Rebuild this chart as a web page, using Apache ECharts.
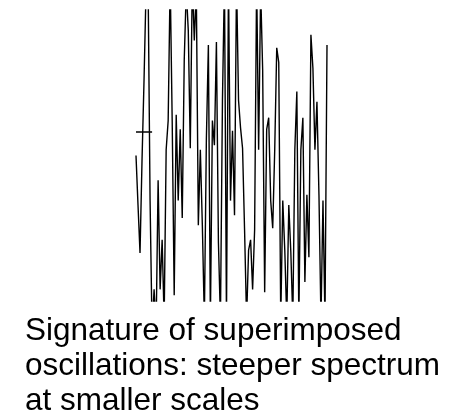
<!DOCTYPE html>
<html>
<head>
<meta charset="utf-8">
<script src="https://cdn.jsdelivr.net/npm/echarts@6/dist/echarts.min.js"></script>
<style>
  html, body { margin: 0; padding: 0; background: #fff; }
  #chart { width: 463px; height: 420px; }
</style>
</head>
<body>
<div id="chart"></div>
<script>
// Oscillating signal, sampled at equal steps; peaks beyond ±1 run off the panel.
const signal = [
  0.00, -0.34, -0.67, -0.03, 0.52, 1.14, 1.21, -0.31, -1.20, -0.92,
  -1.20, -0.17, -0.92, -0.58, -1.13, 0.04, 0.24, 1.21, 0.24, -0.96,
  0.28, -0.31, 0.18, -0.43, 0.66, 1.14, 0.86, 0.05, 1.21, 0.79,
  1.14, -0.48, 0.04, -0.48, -1.13, 0.11, 0.76, -1.13, 0.24, 0.07,
  0.78, -0.60, -1.13, 0.38, 1.21, -1.13, 1.21, -0.31, 0.17, -0.41,
  1.21, 0.38, 0.19, 0.05, -0.51, -1.13, -0.65, -0.58, -0.92, -0.51,
  1.21, 0.04, 1.14, 0.59, -0.94, 0.18, 0.26, -0.31, -0.50, 0.04,
  0.74, 0.64, -1.13, -0.31, -0.65, -1.13, -0.34, -0.66, -1.13, 0.04,
  0.44, -1.13, 0.04, 0.26, -0.87, -0.27, -0.70, 0.83, 0.60, 0.04,
  0.37, -0.27, -1.13, -0.31, -1.13, 0.76
];
const steps = signal.map((_, i) => i);

// Reference level marked at the start of the record
const refLevel = 0.16;
const refSpan = [0, 8];

const caption = 'Signature of superimposed\noscillations: steeper spectrum\nat smaller scales';

const chart = echarts.init(document.getElementById('chart'), null, { renderer: 'canvas' });
chart.setOption({
  animation: false,
  backgroundColor: '#ffffff',
  title: {
    text: caption,
    left: 25,
    top: 314,
    padding: 0,
    textStyle: {
      fontFamily: 'Liberation Sans, Arial, sans-serif',
      fontSize: 31.5,
      fontWeight: 'normal',
      lineHeight: 35,
      color: '#000'
    }
  },
  grid: { left: 136, right: 136, top: 10, bottom: 119 },
  xAxis: {
    type: 'category',
    data: steps,
    boundaryGap: false,
    show: false
  },
  yAxis: {
    type: 'value',
    min: -1,
    max: 1,
    show: false
  },
  series: [{
    type: 'line',
    data: signal,
    symbol: 'none',
    clip: true,
    lineStyle: { color: '#000', width: 1.4 },
    markLine: {
      silent: true,
      symbol: 'none',
      label: { show: false },
      lineStyle: { color: '#000', width: 1.5, type: 'solid' },
      data: [[
        { coord: [refSpan[0], refLevel] },
        { coord: [refSpan[1], refLevel] }
      ]]
    }
  }]
});
</script>
</body>
</html>
